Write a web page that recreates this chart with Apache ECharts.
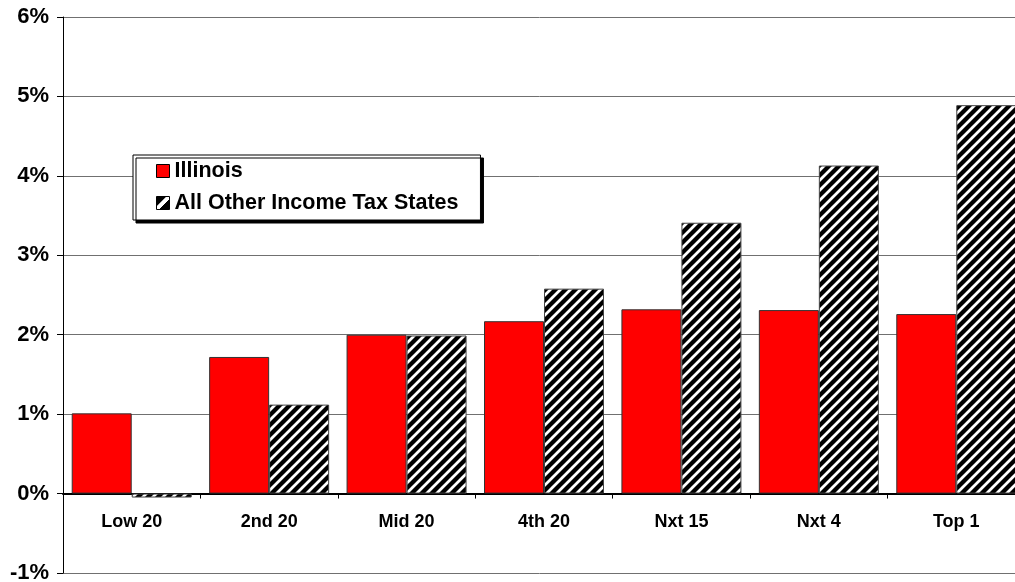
<!DOCTYPE html>
<html>
<head>
<meta charset="utf-8">
<script src="https://cdn.jsdelivr.net/npm/echarts@6/dist/echarts.min.js"></script>
<style>
html,body{margin:0;padding:0;background:#fff;}
#chart{width:1015px;height:582px;}
</style>
</head>
<body>
<div id="chart"></div>
<script>
const categories = ['Low 20', '2nd 20', 'Mid 20', '4th 20', 'Nxt 15', 'Nxt 4', 'Top 1'];
const illinois = [1.01, 1.72, 2.00, 2.17, 2.32, 2.31, 2.26];
const otherStates = [-0.05, 1.12, 1.99, 2.58, 3.41, 4.13, 4.89];
const seriesNames = ['Illinois', 'All Other Income Tax States'];

function makeHatch() {
  const s = 10;
  const c = document.createElement('canvas');
  c.width = s; c.height = s;
  const ctx = c.getContext('2d');
  ctx.fillStyle = '#000';
  ctx.fillRect(0, 0, s, s);
  ctx.strokeStyle = '#fff';
  ctx.lineWidth = 2.8;
  ctx.beginPath();
  ctx.moveTo(-2, s + 2); ctx.lineTo(s + 2, -2);
  ctx.moveTo(-2, 2); ctx.lineTo(2, -2);
  ctx.moveTo(s - 2, s + 2); ctx.lineTo(s + 2, s - 2);
  ctx.stroke();
  return c;
}
const hatch = { image: makeHatch(), repeat: 'repeat' };
const FONT = "'Liberation Sans', Arial, sans-serif";

const chart = echarts.init(document.getElementById('chart'), null, { renderer: 'canvas' });
chart.setOption({
  animation: false,
  backgroundColor: '#fff',
  grid: { left: 63, top: 17, width: 962, height: 556, containLabel: false, outerBoundsMode: 'none' },
  legend: {
    orient: 'vertical',
    left: 133,
    top: 155,
    padding: [5, 22, 6, 23],
    itemGap: 10,
    itemWidth: 13,
    itemHeight: 13,
    backgroundColor: '#fff',
    borderColor: '#000',
    borderWidth: 1,
    shadowColor: '#000',
    shadowBlur: 0,
    shadowOffsetX: 3,
    shadowOffsetY: 3,
    textStyle: { fontFamily: FONT, fontWeight: 'bold', fontSize: 21.5, color: '#000' },
    data: [
      { name: seriesNames[0], icon: 'rect', itemStyle: { color: '#ff0000', borderColor: '#000', borderWidth: 1 } },
      { name: seriesNames[1], icon: 'rect', itemStyle: {
          color: { type: 'linear', x: 0, y: 0, x2: 1, y2: 1, colorStops: [
            { offset: 0, color: '#000' }, { offset: 0.38, color: '#000' },
            { offset: 0.40, color: '#fff' }, { offset: 0.58, color: '#fff' },
            { offset: 0.60, color: '#000' }, { offset: 1, color: '#000' } ] },
          borderColor: '#000', borderWidth: 1 } }
    ]
  },
  xAxis: {
    type: 'category',
    data: categories,
    axisLine: { onZero: true, lineStyle: { color: '#000', width: 2 } },
    axisTick: { show: true, length: 5, lineStyle: { color: '#000', width: 1 } },
    axisLabel: { margin: -60, hideOverlap: false, fontFamily: FONT, fontWeight: 'bold', fontSize: 18, color: '#000' },
    splitLine: { show: false }
  },
  yAxis: {
    type: 'value',
    min: -1, max: 6, interval: 1,
    axisLine: { show: true, lineStyle: { color: '#000', width: 1 } },
    axisTick: { show: true, length: 6, lineStyle: { color: '#000' } },
    axisLabel: { formatter: '{value}%', margin: 14, fontFamily: FONT, fontWeight: 'bold', fontSize: 22, color: '#000' },
    splitLine: { show: true, lineStyle: { color: '#707070', width: 1 } }
  },
  series: [
    {
      name: seriesNames[0], type: 'bar', data: illinois,
      barWidth: 60, barGap: '0%',
      itemStyle: { color: '#ff0000', borderColor: '#333', borderWidth: 1 }
    },
    {
      name: seriesNames[1], type: 'bar', data: otherStates,
      barWidth: 60, barGap: '0%',
      itemStyle: { color: hatch, borderColor: '#444', borderWidth: 1 }
    }
  ]
});
</script>
</body>
</html>
